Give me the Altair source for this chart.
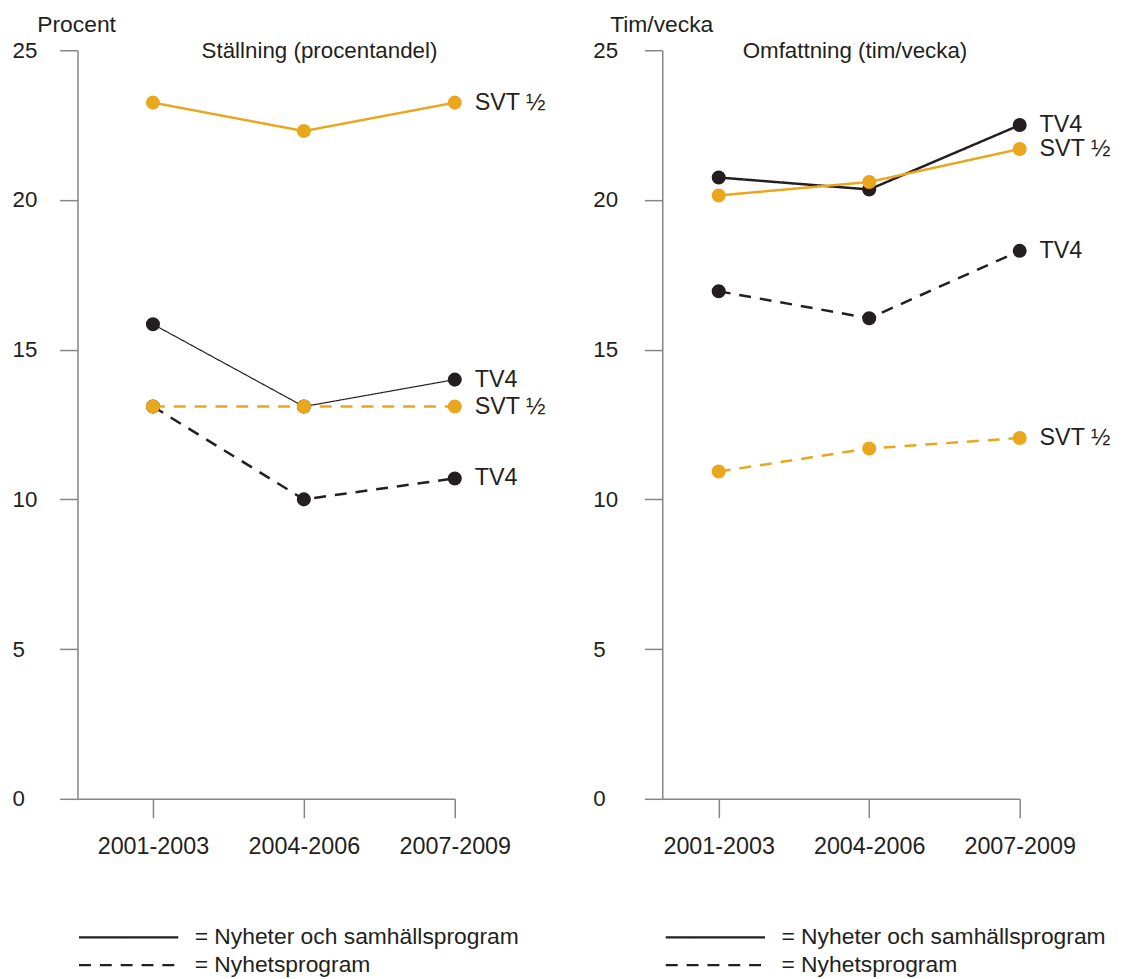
import json
import altair as alt
import pandas as pd

categories = ["2001-2003", "2004-2006", "2007-2009"]
types = ["Nyheter och samhällsprogram", "Nyhetsprogram"]
y_ticks = [0, 5, 10, 15, 20, 25]

# Left panel: Ställning (procentandel)
left_svt_solid = [23.25, 22.3, 23.25]
left_tv4_solid = [15.85, 13.1, 14.0]
left_svt_dashed = [13.1, 13.1, 13.1]
left_tv4_dashed = [13.1, 10.0, 10.7]

# Right panel: Omfattning (tim/vecka)
right_tv4_solid = [20.75, 20.35, 22.5]
right_svt_solid = [20.15, 20.6, 21.7]
right_tv4_dashed = [16.95, 16.05, 18.3]
right_svt_dashed = [10.93, 11.7, 12.05]

ORANGE = "#E9A71E"
BLACK = "#231F20"
GREY = "#858585"
FONT = "Liberation Sans"


def build(series):
    rows = []
    for name, kind, color, width, vals in series:
        for i, v in enumerate(vals):
            rows.append({"idx": i, "cat": categories[i], "value": v, "serie": name,
                         "type": kind, "color": color, "width": width,
                         "key": name + "|" + kind})
    return pd.DataFrame(rows)


left_df = build([
    ("TV4", types[0], BLACK, 1.2, left_tv4_solid),
    ("TV4", types[1], BLACK, 2.5, left_tv4_dashed),
    ("SVT ½", types[0], ORANGE, 2.5, left_svt_solid),
    ("SVT ½", types[1], ORANGE, 2.5, left_svt_dashed),
])
right_df = build([
    ("TV4", types[0], BLACK, 2.5, right_tv4_solid),
    ("TV4", types[1], BLACK, 2.5, right_tv4_dashed),
    ("SVT ½", types[0], ORANGE, 2.5, right_svt_solid),
    ("SVT ½", types[1], ORANGE, 2.5, right_svt_dashed),
])

label_expr = json.dumps(categories) + "[datum.value]"


def panel(df, width, xmin, title, title_dx, ytitle, ytitle_x, ylabel_pad, leg_x):
    x = alt.X("idx:Q",
              scale=alt.Scale(domain=[xmin, 2], nice=False, zero=False),
              axis=alt.Axis(values=[0, 1, 2], labelExpr=label_expr, title=None,
                            grid=False, tickSize=19, labelPadding=17,
                            labelOverlap=False, labelBound=False, labelFlush=False,
                            labelFontSize=23.5, labelFont=FONT, labelColor=BLACK,
                            domainColor=GREY, tickColor=GREY, domainWidth=1.5,
                            tickWidth=1.5))
    y = alt.Y("value:Q",
              scale=alt.Scale(domain=[0, 25], nice=False),
              axis=alt.Axis(values=y_ticks, grid=False, tickSize=18,
                            labelAlign="left", labelBaseline="middle",
                            labelPadding=ylabel_pad, labelFontSize=22.5,
                            labelFont=FONT, labelColor=BLACK, labelOverlap=False,
                            domainColor=GREY, tickColor=GREY, domainWidth=1.5,
                            tickWidth=1.5,
                            title=ytitle, titleAngle=0, titleAlign="left",
                            titleBaseline="alphabetic", titleX=ytitle_x,
                            titleY=-19, titleFontSize=23, titleFont=FONT,
                            titleFontWeight="normal", titleColor=BLACK))
    dash = alt.StrokeDash("type:N",
                          scale=alt.Scale(domain=types, range=[[1, 0], [12, 9]]),
                          legend=alt.Legend(orient="none", legendX=leg_x, legendY=882,
                                            title=None, direction="vertical",
                                            symbolType="M-5,0L5,0",
                                            symbolSize=400, symbolStrokeWidth=2.2,
                                            symbolStrokeColor=BLACK,
                                            labelExpr="'= ' + datum.label",
                                            labelFontSize=23, labelFont=FONT,
                                            labelColor=BLACK, labelOffset=55,
                                            labelLimit=600, rowPadding=4))
    base = alt.Chart(df).encode(x=x, y=y)
    layers = []
    for col in [BLACK, ORANGE]:
        sub = base.transform_filter(alt.datum.color == col)
        layers.append(sub.mark_line().encode(
            detail="key:N", strokeDash=dash,
            color=alt.Color("color:N", scale=None),
            strokeWidth=alt.StrokeWidth("width:Q", scale=None)))
        layers.append(sub.mark_circle(size=200, opacity=1).encode(
            color=alt.Color("color:N", scale=None)))
    labels = base.transform_filter(alt.datum.idx == 2).mark_text(
        align="left", baseline="middle", dx=20, fontSize=23.5, font=FONT,
        color=BLACK).encode(text="serie:N")
    layers.append(labels)
    return alt.layer(*layers).properties(
        width=width, height=754,
        title=alt.TitleParams(title, anchor="start", dx=title_dx, fontSize=22.5,
                              font=FONT, fontWeight="normal", color=BLACK,
                              frame="group", offset=0, dy=49))


left = panel(left_df, 380, -0.5, "Ställning (procentandel)", 125, "Procent", -41, 48, 40)
right = panel(right_df, 360, -0.375, "Omfattning (tim/vecka)", 81, "Tim/vecka", -53, 52, 42)

chart = alt.hconcat(left, right, spacing=47).resolve_scale(
    strokeDash="independent").resolve_legend(strokeDash="independent").configure_view(
    stroke=None).properties(padding={"left": 4, "top": 2, "right": 5, "bottom": 5})

chart.save("out.html", embed_options={"renderer": "svg", "actions": False})
